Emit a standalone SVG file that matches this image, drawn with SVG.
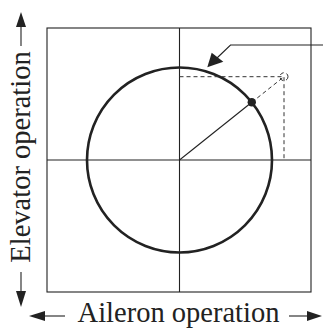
<svg xmlns="http://www.w3.org/2000/svg" width="323" height="328" viewBox="0 0 323 328">
<style>
.thin{stroke:#222;stroke-width:1.1;fill:none}
.dash{stroke:#333;stroke-width:1;fill:none;stroke-dasharray:4,3}
.lbl{font-family:"Liberation Serif","Times New Roman","DejaVu Serif",serif;font-size:28.5px;fill:#222}
.head{fill:#222;stroke:none}
</style>
<g id="frame">
<rect x="47" y="28" width="264" height="264" class="thin" stroke-width="1.3"/>
</g>
<g id="axes">
<line x1="179.5" y1="28" x2="179.5" y2="292" class="thin"/>
<line x1="47" y1="160" x2="311" y2="160" class="thin"/>
</g>
<g id="circle">
<circle cx="179.5" cy="160" r="92.5" fill="none" stroke="#222" stroke-width="2.6"/>
</g>
<g id="construction">
<polyline points="179.5,76.7 284,76.7 284,160" class="dash"/>
<line x1="251.8" y1="102.3" x2="284" y2="76.7" class="dash"/>
<circle cx="284" cy="76.7" r="4" class="dash" stroke-dasharray="2,1.5"/>
<line x1="179.5" y1="160" x2="251.8" y2="102.3" class="thin"/>
<circle cx="251.8" cy="102.3" r="4.2" class="head"/>
</g>
<g id="connectors">
<polyline points="323,45 230.5,45 217,58" class="thin"/>
<polygon points="207.3,67.3 211.7,52.7 223.3,61.7" class="head"/>
<line x1="21" y1="26" x2="21" y2="46" class="thin" stroke-width="1.3"/>
<polygon points="21,12 16,27 26,27" class="head"/>
<line x1="21" y1="272" x2="21" y2="292" class="thin" stroke-width="1.3"/>
<polygon points="21,307 16,291 26,291" class="head"/>
<line x1="44" y1="316" x2="65" y2="316" class="thin" stroke-width="1.3"/>
<polygon points="29,316 45,311 45,321" class="head"/>
<line x1="289" y1="316" x2="309" y2="316" class="thin" stroke-width="1.3"/>
<polygon points="322,316 307,311 307,321" class="head"/>
</g>
<g id="labels">
<text class="lbl" x="178.5" y="321.5" text-anchor="middle">Aileron operation</text>
<text class="lbl" transform="translate(29.5,157) rotate(-90)" text-anchor="middle">Elevator operation</text>
</g>
</svg>
